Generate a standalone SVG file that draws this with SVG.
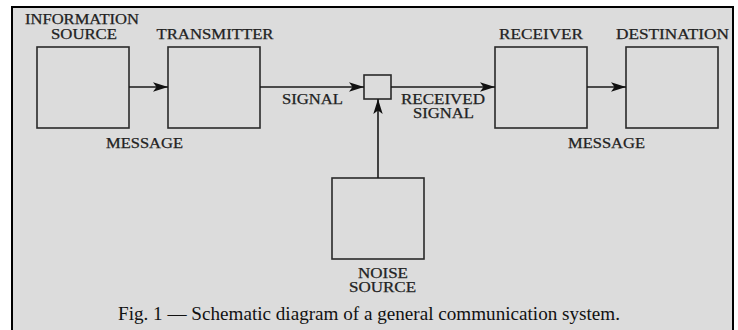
<svg xmlns="http://www.w3.org/2000/svg" width="738" height="330" viewBox="0 0 738 330">
<style>
.box{fill:none;stroke:#2a2a2a;stroke-width:1.6}
.lbl{font-family:"Liberation Serif","Times New Roman",serif;font-size:14px;fill:#222;text-anchor:middle;stroke:#222;stroke-width:0.25}
.cap{font-family:"Liberation Serif","Times New Roman",serif;font-size:19px;fill:#111;text-anchor:middle}
.conn{stroke:#1a1a1a;stroke-width:1.6;fill:none}
</style>
<defs>
<marker id="arr" viewBox="0 0 15 10" refX="15" refY="5" markerWidth="15" markerHeight="10" markerUnits="userSpaceOnUse" orient="auto">
<path d="M0,0.3 L15,5 L0,9.7 L3.5,5 Z" fill="#111"/>
</marker>
</defs>
<rect x="0" y="0" width="738" height="330" fill="#ffffff"/>
<path d="M12,330 V7 H733 V330" fill="#dcdcdc" stroke="#000" stroke-width="2"/>
<g id="info-source">
<rect class="box" x="37" y="47" width="92" height="81"/>
<text class="lbl" x="82" y="24" textLength="114" lengthAdjust="spacingAndGlyphs">INFORMATION</text>
<text class="lbl" x="84" y="39" textLength="66" lengthAdjust="spacingAndGlyphs">SOURCE</text>
</g>
<g id="transmitter">
<rect class="box" x="168" y="47" width="92" height="81"/>
<text class="lbl" x="215" y="39" textLength="117" lengthAdjust="spacingAndGlyphs">TRANSMITTER</text>
</g>
<g id="noise-junction">
<rect class="box" x="364" y="75" width="27" height="24"/>
</g>
<g id="receiver">
<rect class="box" x="495" y="47" width="92" height="81"/>
<text class="lbl" x="541" y="39" textLength="84" lengthAdjust="spacingAndGlyphs">RECEIVER</text>
</g>
<g id="destination">
<rect class="box" x="626" y="47" width="92" height="81"/>
<text class="lbl" x="672.5" y="39" textLength="113" lengthAdjust="spacingAndGlyphs">DESTINATION</text>
</g>
<g id="noise-source">
<rect class="box" x="332" y="178" width="92" height="81"/>
<text class="lbl" x="383" y="278" textLength="50" lengthAdjust="spacingAndGlyphs">NOISE</text>
<text class="lbl" x="382.5" y="292" textLength="67" lengthAdjust="spacingAndGlyphs">SOURCE</text>
</g>
<g id="connectors">
<line class="conn" x1="129" y1="87" x2="168" y2="87" marker-end="url(#arr)"/>
<line class="conn" x1="260" y1="87" x2="364" y2="87" marker-end="url(#arr)"/>
<line class="conn" x1="391" y1="87" x2="495" y2="87" marker-end="url(#arr)"/>
<line class="conn" x1="587" y1="87" x2="626" y2="87" marker-end="url(#arr)"/>
<line class="conn" x1="378" y1="178" x2="378" y2="99" marker-end="url(#arr)"/>
<text class="lbl" x="312.5" y="104" textLength="61" lengthAdjust="spacingAndGlyphs">SIGNAL</text>
<text class="lbl" x="443" y="104" textLength="84" lengthAdjust="spacingAndGlyphs">RECEIVED</text>
<text class="lbl" x="443.5" y="118" textLength="61" lengthAdjust="spacingAndGlyphs">SIGNAL</text>
<text class="lbl" x="144.5" y="148" textLength="77" lengthAdjust="spacingAndGlyphs">MESSAGE</text>
<text class="lbl" x="606.5" y="148" textLength="77" lengthAdjust="spacingAndGlyphs">MESSAGE</text>
</g>
<text class="cap" x="369" y="320" textLength="502" lengthAdjust="spacingAndGlyphs">Fig. 1 — Schematic diagram of a general communication system.</text>
</svg>
